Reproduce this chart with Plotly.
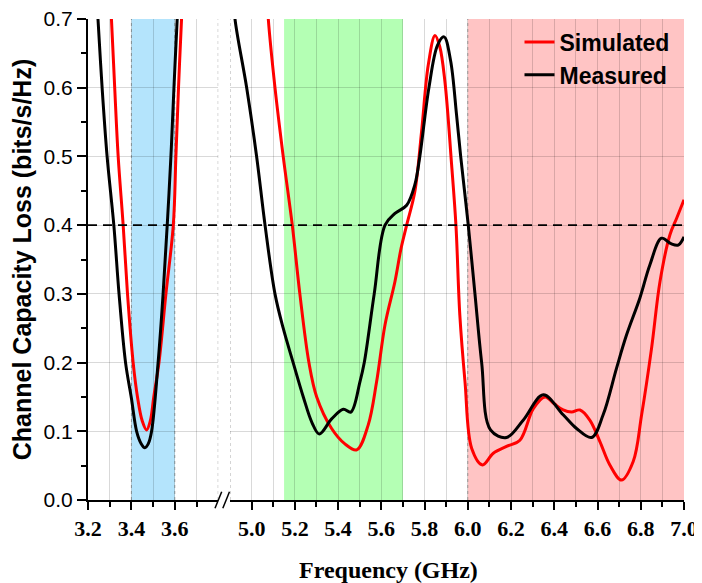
import plotly.graph_objects as go

# ---------------- data ----------------
# Low band (3.2 - 3.8 GHz)
sim_f1 = [3.300, 3.308, 3.323, 3.339, 3.362, 3.382, 3.408, 3.428, 3.450, 3.470, 3.487, 3.503, 3.527, 3.559, 3.593, 3.605, 3.617, 3.631, 3.640]
sim_v1 = [0.740, 0.700, 0.600, 0.500, 0.400, 0.300, 0.200, 0.150, 0.115, 0.102, 0.115, 0.150, 0.200, 0.300, 0.400, 0.500, 0.600, 0.700, 0.750]

meas_f1 = [3.238, 3.246, 3.265, 3.288, 3.319, 3.343, 3.373, 3.400, 3.424, 3.445, 3.462, 3.478, 3.493, 3.523, 3.546, 3.565, 3.582, 3.596, 3.611, 3.618]
meas_v1 = [0.740, 0.700, 0.600, 0.500, 0.400, 0.300, 0.200, 0.148, 0.100, 0.082, 0.076, 0.082, 0.100, 0.200, 0.300, 0.400, 0.500, 0.600, 0.700, 0.740]

# High band (4.9 - 7.0 GHz)
sim_f2 = [5.070, 5.077, 5.108, 5.146, 5.188, 5.223, 5.265, 5.301, 5.370, 5.430, 5.486, 5.539, 5.578, 5.617, 5.663, 5.691, 5.717,
          5.755, 5.786, 5.817, 5.848, 5.870, 5.894, 5.925, 5.945, 5.963, 5.987, 6.018, 6.068, 6.118, 6.179, 6.241, 6.303,
          6.357, 6.400, 6.441, 6.480, 6.519, 6.565, 6.611, 6.657, 6.711, 6.765, 6.804, 6.850, 6.889, 6.935, 6.966, 7.000]
sim_v2 = [0.740, 0.700, 0.600, 0.500, 0.400, 0.300, 0.200, 0.150, 0.104, 0.082, 0.073, 0.109, 0.172, 0.255, 0.318, 0.366, 0.400,
          0.449, 0.536, 0.633, 0.676, 0.660, 0.609, 0.488, 0.400, 0.269, 0.172, 0.075, 0.051, 0.068, 0.078, 0.087, 0.133,
          0.150, 0.140, 0.131, 0.128, 0.131, 0.116, 0.085, 0.051, 0.029, 0.056, 0.124, 0.221, 0.318, 0.386, 0.410, 0.437]

meas_f2 = [4.915, 4.923, 4.977, 5.023, 5.062, 5.108, 5.146, 5.192, 5.239, 5.280, 5.313, 5.370, 5.424, 5.459, 5.501, 5.521, 5.567,
           5.617, 5.663, 5.717, 5.755, 5.778, 5.820, 5.860, 5.890, 5.920, 5.948, 5.967, 6.002, 6.033, 6.064, 6.105, 6.179,
           6.256, 6.349, 6.441, 6.503, 6.573, 6.626, 6.688, 6.734, 6.796, 6.842, 6.896, 6.940, 6.973, 7.000]
meas_v2 = [0.740, 0.700, 0.600, 0.500, 0.400, 0.300, 0.250, 0.200, 0.150, 0.112, 0.096, 0.118, 0.132, 0.128, 0.172, 0.200, 0.300,
           0.400, 0.417, 0.429, 0.459, 0.500, 0.600, 0.662, 0.674, 0.640, 0.560, 0.500, 0.400, 0.300, 0.200, 0.102, 0.091,
           0.116, 0.153, 0.124, 0.104, 0.091, 0.124, 0.192, 0.240, 0.294, 0.342, 0.381, 0.373, 0.371, 0.383]

x1_ticks = [3.2, 3.4, 3.6]
x1_minor = [3.3, 3.5, 3.7]
x2_ticks = [5.0, 5.2, 5.4, 5.6, 5.8, 6.0, 6.2, 6.4, 6.6, 6.8, 7.0]
x2_minor = [5.1, 5.3, 5.5, 5.7, 5.9, 6.1, 6.3, 6.5, 6.7, 6.9]

bands = [("x", 3.4, 3.6, "rgb(180,228,252)"),
         ("x2", 5.15, 5.7, "rgb(180,255,180)"),
         ("x2", 6.0, 7.0, "rgb(255,196,196)")]
threshold = 0.4

# ---------------- figure ----------------
fig = go.Figure()
line_sim = dict(color="#ff0000", width=3, shape="spline", smoothing=1.0)
line_meas = dict(color="#000000", width=3, shape="spline", smoothing=1.0)

fig.add_trace(go.Scatter(x=sim_f1, y=sim_v1, mode="lines", line=line_sim, name="Simulated",
                         legendgroup="sim", xaxis="x", yaxis="y"))
fig.add_trace(go.Scatter(x=meas_f1, y=meas_v1, mode="lines", line=line_meas, name="Measured",
                         legendgroup="meas", xaxis="x", yaxis="y"))
fig.add_trace(go.Scatter(x=sim_f2, y=sim_v2, mode="lines", line=line_sim, name="Simulated",
                         legendgroup="sim", showlegend=False, xaxis="x2", yaxis="y"))
fig.add_trace(go.Scatter(x=meas_f2, y=meas_v2, mode="lines", line=line_meas, name="Measured",
                         legendgroup="meas", showlegend=False, xaxis="x2", yaxis="y"))

shapes = []
for ax, a, b, col in bands:
    shapes.append(dict(type="rect", xref=ax, yref="y", x0=a, x1=b, y0=0, y1=0.7,
                       fillcolor=col, line=dict(width=0), layer="below"))
# dotted edges of blue band and pink band
for ax, xv in [("x", 3.4), ("x", 3.6), ("x2", 6.0)]:
    shapes.append(dict(type="line", xref=ax, yref="y", x0=xv, x1=xv, y0=0, y1=0.7,
                       line=dict(color="rgba(120,120,120,0.6)", width=1, dash="dot"), layer="below"))
# dotted break edges
for ax, xv in [("x", 3.8), ("x2", 4.9)]:
    shapes.append(dict(type="line", xref=ax, yref="y", x0=xv, x1=xv, y0=0, y1=0.7,
                       line=dict(color="rgba(150,150,150,0.8)", width=1, dash="dot"), layer="below"))
# threshold
shapes.append(dict(type="line", xref="paper", yref="y", x0=0, x1=1, y0=threshold, y1=threshold,
                   line=dict(color="black", width=1.6, dash="9px,6px"), layer="above"))
# axis break marks
for xs in [(0.2131, 0.2243), (0.2262, 0.2374)]:
    shapes.append(dict(type="line", xref="paper", yref="paper", x0=xs[0], x1=xs[1], y0=-0.017, y1=0.017,
                       line=dict(color="black", width=1.5), layer="above"))

grid_col = "rgba(0,0,0,0.15)"
serif_bold = dict(family="Liberation Serif", size=22, color="black", weight="bold")

fig.update_layout(
    width=702, height=583,
    margin=dict(l=80, r=26, t=11, b=91, autoexpand=False),
    plot_bgcolor="white", paper_bgcolor="white",
    shapes=shapes,
    showlegend=True,
    legend=dict(x=0.724, y=0.997, xanchor="left", yanchor="top", bgcolor="rgba(0,0,0,0)",
                font=dict(family="Liberation Sans", size=23, color="black", weight="bold"),
                tracegroupgap=0, itemwidth=30),
    xaxis=dict(domain=[0, 0.2185], range=[3.2, 3.8], tickmode="array", tickvals=x1_ticks,
               ticktext=[f"{v:.1f}" for v in x1_ticks], tickfont=serif_bold, automargin=False,
               ticklabeloverflow="allow",
               ticks="outside", ticklen=8, tickwidth=2, tickcolor="black",
               showline=True, linecolor="black", linewidth=2, showgrid=True, gridcolor=grid_col, gridwidth=1,
               minor=dict(tickmode="array", tickvals=x1_minor, ticks="outside", ticklen=5, tickwidth=2,
                          tickcolor="black", showgrid=True, gridcolor=grid_col, gridwidth=1),
               zeroline=False, anchor="y", layer="above traces"),
    xaxis2=dict(domain=[0.2383, 1], range=[4.9, 7.0], tickmode="array", tickvals=x2_ticks,
                ticktext=[f"{v:.1f}" for v in x2_ticks], tickfont=serif_bold, automargin=False,
                ticklabeloverflow="allow",
                ticks="outside", ticklen=8, tickwidth=2, tickcolor="black",
                showline=True, linecolor="black", linewidth=2, showgrid=True, gridcolor=grid_col, gridwidth=1,
                minor=dict(tickmode="array", tickvals=x2_minor, ticks="outside", ticklen=5, tickwidth=2,
                           tickcolor="black", showgrid=True, gridcolor=grid_col, gridwidth=1),
                zeroline=False, anchor="y", layer="above traces"),
    yaxis=dict(range=[0, 0.7], tickmode="linear", tick0=0, dtick=0.1, tickformat=".1f", automargin=False,
               ticklabeloverflow="allow",
               tickfont=dict(family="Liberation Sans", size=21, color="black"),
               ticks="outside", ticklen=9, tickwidth=2, tickcolor="black",
               showline=True, linecolor="black", linewidth=2, showgrid=True, gridcolor=grid_col, gridwidth=1,
               minor=dict(dtick=0.05, ticks="outside", ticklen=5, tickwidth=2, tickcolor="black", showgrid=False),
               zeroline=False, anchor="x",
               title=dict(text="Channel Capacity Loss (bits/s/Hz)", standoff=6,
                          font=dict(family="Liberation Sans", size=25, color="black", weight="bold"))),
    annotations=[dict(text="Frequency (GHz)", xref="paper", yref="paper", x=0.504, y=-0.1455,
                      xanchor="center", yanchor="middle", showarrow=False,
                      font=dict(family="Liberation Serif", size=24, color="black", weight="bold"))],
)

fig.write_html("out.html")
